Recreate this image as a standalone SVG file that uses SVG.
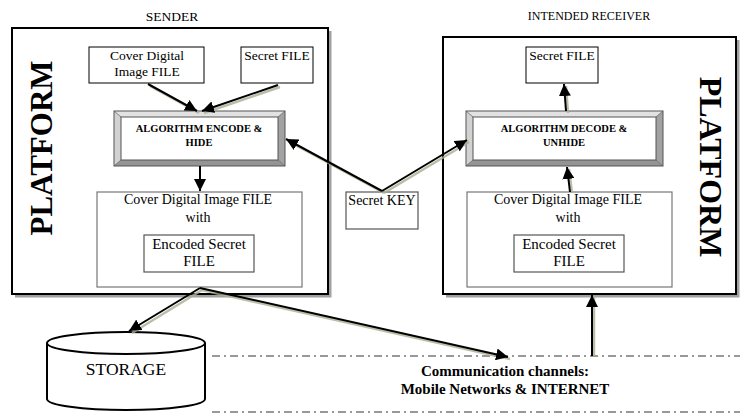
<svg xmlns="http://www.w3.org/2000/svg" width="740" height="415" viewBox="0 0 740 415">
<defs>
<style>
.serif{font-family:"Liberation Serif","Times New Roman",serif;fill:#000}
.box{fill:#fff;stroke:#000;stroke-width:1}
.gbox{fill:#fff;stroke:#777;stroke-width:1.2}
.dbox{fill:#fff;stroke:#555;stroke-width:1.2}
.plat{fill:#fff;stroke:#000;stroke-width:2}
.pshadow{fill:none;stroke:#a0a0a0;stroke-width:3}
.conn{stroke:#000;stroke-width:2;fill:none}
.csh{stroke:#a7b092;stroke-width:2.5;fill:none}
.dd{stroke:#333;stroke-width:1;fill:none;stroke-dasharray:8 4 2 4}
.bt{fill:#e2e2e2}.bl{fill:#d2d2d2}.br{fill:#a2a2a2}.bb{fill:#949494}
</style>
<marker id="ah" viewBox="0 0 10 10" refX="10" refY="5" markerWidth="6" markerHeight="6" markerUnits="strokeWidth" orient="auto">
<path d="M0,0 L10,5 L0,10 Z" fill="#000"/>
</marker>
</defs>
<rect width="740" height="415" fill="#fff"/>

<g id="sender">
<text class="serif" x="172" y="21" font-size="13.5" text-anchor="middle">SENDER</text>
<path class="pshadow" d="M330,31 V296 H15"/>
<rect class="plat" x="12" y="28" width="316" height="266"/>
<text class="serif" transform="translate(52,148) rotate(-90)" font-size="31" font-weight="bold" text-anchor="middle">PLATFORM</text>
</g>

<g id="receiver">
<text class="serif" x="589" y="20" font-size="12" text-anchor="middle">INTENDED RECEIVER</text>
<path class="pshadow" d="M738,40 V296 H446"/>
<rect class="plat" x="443" y="37" width="293" height="257"/>
<text class="serif" transform="translate(700,167) rotate(90)" font-size="32" font-weight="bold" text-anchor="middle">PLATFORM</text>
</g>

<g id="cover-image">
<rect class="box" x="89" y="47" width="115" height="36"/>
<text class="serif" x="147" y="60" font-size="13.5" text-anchor="middle">Cover Digital</text>
<text class="serif" x="147" y="76" font-size="13.5" text-anchor="middle">Image FILE</text>
</g>

<g id="secret-file-s">
<rect class="box" x="241" y="47" width="72" height="36"/>
<text class="serif" x="277" y="60" font-size="13.5" text-anchor="middle">Secret FILE</text>
</g>

<g id="encode">
<polygon class="bt" points="114,111 285,111 278,117 121,117"/>
<polygon class="bl" points="114,111 121,117 121,160 114,166"/>
<polygon class="br" points="285,111 285,166 278,160 278,117"/>
<polygon class="bb" points="114,166 285,166 278,160 121,160"/>
<path d="M114,111 L121,117 M285,111 L278,117 M114,166 L121,160 M285,166 L278,160" stroke="#666" stroke-width="0.8"/>
<rect x="114" y="111" width="171" height="55" fill="none" stroke="#555" stroke-width="1"/>
<rect x="121" y="117" width="157" height="43" fill="#fff" stroke="#555" stroke-width="1"/>
<text class="serif" x="199" y="132" font-size="10.5" font-weight="bold" text-anchor="middle">ALGORITHM ENCODE &amp;</text>
<text class="serif" x="199" y="146" font-size="10.5" font-weight="bold" text-anchor="middle">HIDE</text>
</g>

<g id="stego-s">
<rect class="gbox" x="97" y="192" width="205" height="95"/>
<text class="serif" x="198" y="204" font-size="14" text-anchor="middle">Cover Digital Image FILE</text>
<text class="serif" x="198" y="222" font-size="14" text-anchor="middle">with</text>
<rect class="dbox" x="144" y="235" width="110" height="37"/>
<text class="serif" x="199" y="249" font-size="15" text-anchor="middle">Encoded Secret</text>
<text class="serif" x="199" y="266" font-size="15" text-anchor="middle">FILE</text>
</g>

<g id="secret-key">
<rect x="346" y="192" width="72" height="37" fill="#fff" stroke="#555" stroke-width="1.2"/>
<text class="serif" x="382" y="205" font-size="14" text-anchor="middle">Secret KEY</text>
</g>

<g id="secret-file-r">
<rect class="box" x="526" y="47" width="72" height="36"/>
<text class="serif" x="562" y="60" font-size="13.5" text-anchor="middle">Secret FILE</text>
</g>

<g id="decode">
<polygon class="bt" points="466,111 663,111 656,117 473,117"/>
<polygon class="bl" points="466,111 473,117 473,160 466,166"/>
<polygon class="br" points="663,111 663,166 656,160 656,117"/>
<polygon class="bb" points="466,166 663,166 656,160 473,160"/>
<path d="M466,111 L473,117 M663,111 L656,117 M466,166 L473,160 M663,166 L656,160" stroke="#666" stroke-width="0.8"/>
<rect x="466" y="111" width="197" height="55" fill="none" stroke="#555" stroke-width="1"/>
<rect x="473" y="117" width="183" height="43" fill="#fff" stroke="#555" stroke-width="1"/>
<text class="serif" x="564" y="132" font-size="10.5" font-weight="bold" text-anchor="middle">ALGORITHM DECODE &amp;</text>
<text class="serif" x="564" y="146" font-size="10.5" font-weight="bold" text-anchor="middle">UNHIDE</text>
</g>

<g id="stego-r">
<rect class="gbox" x="467" y="192" width="205" height="95"/>
<text class="serif" x="568" y="204" font-size="14" text-anchor="middle">Cover Digital Image FILE</text>
<text class="serif" x="568" y="222" font-size="14" text-anchor="middle">with</text>
<rect class="dbox" x="514" y="235" width="110" height="37"/>
<text class="serif" x="569" y="249" font-size="15" text-anchor="middle">Encoded Secret</text>
<text class="serif" x="569" y="266" font-size="15" text-anchor="middle">FILE</text>
</g>

<g id="storage">
<path d="M47,343 V399 A79,11 0 0 0 205,399 V343" fill="#fff" stroke="#000" stroke-width="2"/>
<ellipse cx="126" cy="343" rx="79" ry="11" fill="#fff" stroke="#000" stroke-width="2"/>
<text class="serif" x="126" y="375" font-size="17.5" text-anchor="middle">STORAGE</text>
</g>

<g id="channels">
<line class="dd" x1="212" y1="356" x2="740" y2="356"/>
<line class="dd" x1="212" y1="412" x2="740" y2="412"/>
<text class="serif" x="505" y="376" font-size="15" font-weight="bold" text-anchor="middle">Communication channels:</text>
<text class="serif" x="505" y="394" font-size="15" font-weight="bold" text-anchor="middle">Mobile Networks &amp; INTERNET</text>
</g>

<g id="connectors">
<g opacity="0.8">
<line class="csh" x1="150" y1="86" x2="199" y2="113"/>
<line class="csh" x1="280" y1="87" x2="204" y2="113"/>
<line class="csh" x1="384" y1="193" x2="288" y2="141"/>
<line class="csh" x1="384" y1="193" x2="469" y2="142"/>
<line class="csh" x1="568" y1="113" x2="566" y2="86"/>
<line class="csh" x1="572" y1="193" x2="569" y2="169"/>
<polyline class="csh" points="132,333 202,290 510,359"/>
<line class="csh" x1="594" y1="356" x2="594" y2="296"/>
</g>
<line class="conn" x1="148" y1="84" x2="197" y2="111" marker-end="url(#ah)"/>
<line class="conn" x1="278" y1="85" x2="202" y2="111" marker-end="url(#ah)"/>
<line class="conn" x1="200" y1="166" x2="200" y2="191" marker-end="url(#ah)"/>
<line class="conn" x1="382" y1="191" x2="286" y2="139" marker-end="url(#ah)"/>
<line class="conn" x1="382" y1="191" x2="467" y2="140" marker-end="url(#ah)"/>
<line class="conn" x1="566" y1="111" x2="564" y2="84" marker-end="url(#ah)"/>
<line class="conn" x1="570" y1="192" x2="567" y2="167" marker-end="url(#ah)"/>
<line class="conn" x1="200" y1="288" x2="129" y2="331" marker-end="url(#ah)"/>
<line class="conn" x1="200" y1="288" x2="508" y2="357" marker-end="url(#ah)"/>
<line class="conn" x1="592" y1="356" x2="592" y2="295" marker-end="url(#ah)"/>
</g>
</svg>
